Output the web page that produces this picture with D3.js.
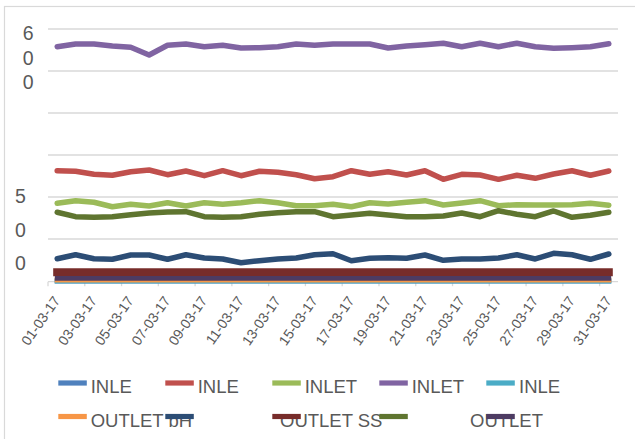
<!DOCTYPE html>
<html><head><meta charset="utf-8">
<script src="https://cdn.jsdelivr.net/npm/d3@7"></script>
<style>
body{margin:0;background:#fff}
svg{display:block}
text{font-family:"Liberation Sans",Arial,sans-serif}
</style>
</head><body>
<svg id="c" width="635" height="439"></svg>
<script>
// ---------------- data ----------------
const categories = ["01-03-17","02-03-17","03-03-17","04-03-17","05-03-17","06-03-17","07-03-17","08-03-17","09-03-17","10-03-17",
  "11-03-17","12-03-17","13-03-17","14-03-17","15-03-17","16-03-17","17-03-17","18-03-17","19-03-17","20-03-17",
  "21-03-17","22-03-17","23-03-17","24-03-17","25-03-17","26-03-17","27-03-17","28-03-17","29-03-17","30-03-17","31-03-17"];
const seriesNames = ["INLE","INLE","INLET","INLET","INLE","OUTLET bH","","OUTLET SS","","OUTLET"];
const yTickLabels = ["600","500"];

const inlet1 = [0,0,0,0,0,0,0,0,0,0,0,0,0,0,0,0,0,0,0,0,0,0,0,0,0,0,0,0,0,0,0];
const inlet2 = [262.6,261.2,254.0,251.7,260.2,264.3,253.1,261.9,250.7,262.6,250.7,261.2,258.8,253.1,243.6,248.3,262.6,254.0,260.2,252.4,262.6,242.1,254.0,252.4,242.1,251.7,244.5,254.8,262.6,251.7,261.9];
const inlet3 = [185.0,191.2,187.4,176.9,182.6,178.6,186.4,178.6,186.4,182.6,186.4,191.2,186.4,179.3,179.3,182.6,176.9,186.4,183.3,187.4,191.2,181.0,185.7,191.2,179.3,181.7,181.0,181.0,181.7,185.0,180.2];
const inlet4 = [557.9,564.3,564.3,559.5,556.4,538.1,561.2,564.3,557.9,561.2,554.8,555.5,557.9,564.3,561.2,564.3,564.3,564.3,554.8,559.5,562.6,566.0,557.9,566.0,557.9,566.0,557.9,554.0,555.5,557.9,565.0];
const inlet5 = [0,0,0,0,0,0,0,0,0,0,0,0,0,0,0,0,0,0,0,0,0,0,0,0,0,0,0,0,0,0,0];
const outlet1 = [2.4,2.4,2.4,2.4,2.4,2.4,2.4,2.4,2.4,2.4,2.4,2.4,2.4,2.4,2.4,2.4,2.4,2.4,2.4,2.4,2.4,2.4,2.4,2.4,2.4,2.4,2.4,2.4,2.4,2.4,2.4];
const outletPH = [53.1,62.6,53.1,51.7,61.9,61.9,51.7,62.6,54.8,52.4,43.6,48.3,52.4,54.8,62.6,64.8,48.3,54.0,55.5,54.0,61.9,49.3,52.4,52.4,54.8,62.6,52.4,66.0,62.6,51.7,64.3];
const outletSS = [21,21,21,21,21,21,21,21,21,21,21,21,21,21,21,21,21,21,21,21,21,21,21,21,21,21,21,21,21,21,21];
const outlet4 = [163.6,153.1,151.7,153.1,157.9,161.9,164.3,165.0,153.1,151.7,153.1,158.8,162.6,165.0,165.0,153.1,157.1,161.2,157.1,153.1,153.1,154.8,161.9,153.1,167.4,158.8,153.1,166.7,151.7,156.4,163.6];
const outlet5 = [6.2,6.2,6.2,6.2,6.2,6.2,6.2,6.2,6.2,6.2,6.2,6.2,6.2,6.2,6.2,6.2,6.2,6.2,6.2,6.2,6.2,6.2,6.2,6.2,6.2,6.2,6.2,6.2,6.2,6.2,6.2];

const seriesValues = [inlet1,inlet2,inlet3,inlet4,inlet5,outlet1,outletPH,outletSS,outlet4,outlet5];

// ---------------- styles / layout ----------------
const colors = ["#4F81BD","#C0504D","#9BBB59","#8064A2","#4BACC6","#F79646","#2C4D75","#772C2A","#5F7530","#4D3B62"];
const widths = [5,5.5,5.5,5.5,5,5,5.5,8,5.5,4.7];
const caps   = ["square","round","round","round","square","square","round","square","round","square"];

const svg = d3.select("#c");
const x0 = 48, x1 = 618, yTop = 29, yBot = 281;

svg.append("rect").attr("x",4.5).attr("y",6.5).attr("width",640).attr("height",440)
  .attr("fill","#fff").attr("stroke","#D9D9D9").attr("stroke-width",1.2);

const x = d3.scaleBand().domain(categories).range([x0,x1]).paddingInner(0).paddingOuter(0);
const y = d3.scaleLinear().domain([0,600]).range([yBot,yTop]);
const cx = d => x(d) + x.bandwidth()/2;

// gridlines
const gridTicks = d3.range(100,601,100);
svg.append("g").selectAll("line").data(gridTicks).join("line")
  .attr("x1",x0).attr("x2",x1).attr("y1",d=>y(d)).attr("y2",d=>y(d))
  .attr("stroke","#D9D9D9").attr("stroke-width",1.3);

// x axis line & ticks
const axisY = yBot + 0.7;
svg.append("line").attr("x1",x0).attr("x2",x1).attr("y1",axisY).attr("y2",axisY)
  .attr("stroke","#D9D9D9").attr("stroke-width",1.3);
const tickCats = categories.filter((d,i)=>i%2===0);
svg.append("g").selectAll("line").data(tickCats).join("line")
  .attr("x1",d=>x(d)).attr("x2",d=>x(d)).attr("y1",axisY).attr("y2",axisY+4.5)
  .attr("stroke","#D9D9D9").attr("stroke-width",1.3);

// x tick labels
svg.append("g").selectAll("text").data(tickCats).join("text")
  .attr("transform",d=>`translate(${cx(d)+3.5},${300.5}) rotate(-55)`)
  .attr("text-anchor","end").attr("font-size",14).attr("fill","#595959")
  .text(d=>d);

// y tick labels (wrapped digit by digit)
const yLabelPos = [
  {cx:28.3, base:[40,64.5,89.3]},
  {cx:20.5, base:[202.7,236.7,270]}
];
yTickLabels.forEach((lab,k)=>{
  lab.split("").forEach((ch,j)=>{
    svg.append("text").attr("x",yLabelPos[k].cx).attr("y",yLabelPos[k].base[j])
      .attr("text-anchor","middle").attr("font-size",19.5).attr("fill","#595959").text(ch);
  });
});

// lines
const line = d3.line().x((d,i)=>cx(categories[i])).y(d=>y(d));
seriesValues.forEach((vals,k)=>{
  svg.append("path").datum(vals).attr("d",line)
    .attr("fill","none").attr("stroke",colors[k]).attr("stroke-width",widths[k])
    .attr("stroke-linejoin","round").attr("stroke-linecap",caps[k]);
});

// legend
const legSwX = [58.3,165.3,272.3,379.3,486.3];
const legRowY = [383,416.5];
const legTextX = [90.7,197.7,304.7,411.7,519,90.7,null,280,null,470];
const legTextY = [393.3,426.5];
const lg = svg.append("g");
seriesNames.forEach((n,k)=>{
  const r = Math.floor(k/5);
  if(n) lg.append("text").attr("x",legTextX[k]).attr("y",legTextY[r])
    .attr("font-size",18.5).attr("fill","#595959").text(n);
});
seriesNames.forEach((n,k)=>{
  const r = Math.floor(k/5), c = k%5;
  lg.append("line").attr("x1",legSwX[c]).attr("x2",legSwX[c]+28.5)
    .attr("y1",legRowY[r]).attr("y2",legRowY[r])
    .attr("stroke",colors[k]).attr("stroke-width",5.2);
});
</script>
</body></html>
